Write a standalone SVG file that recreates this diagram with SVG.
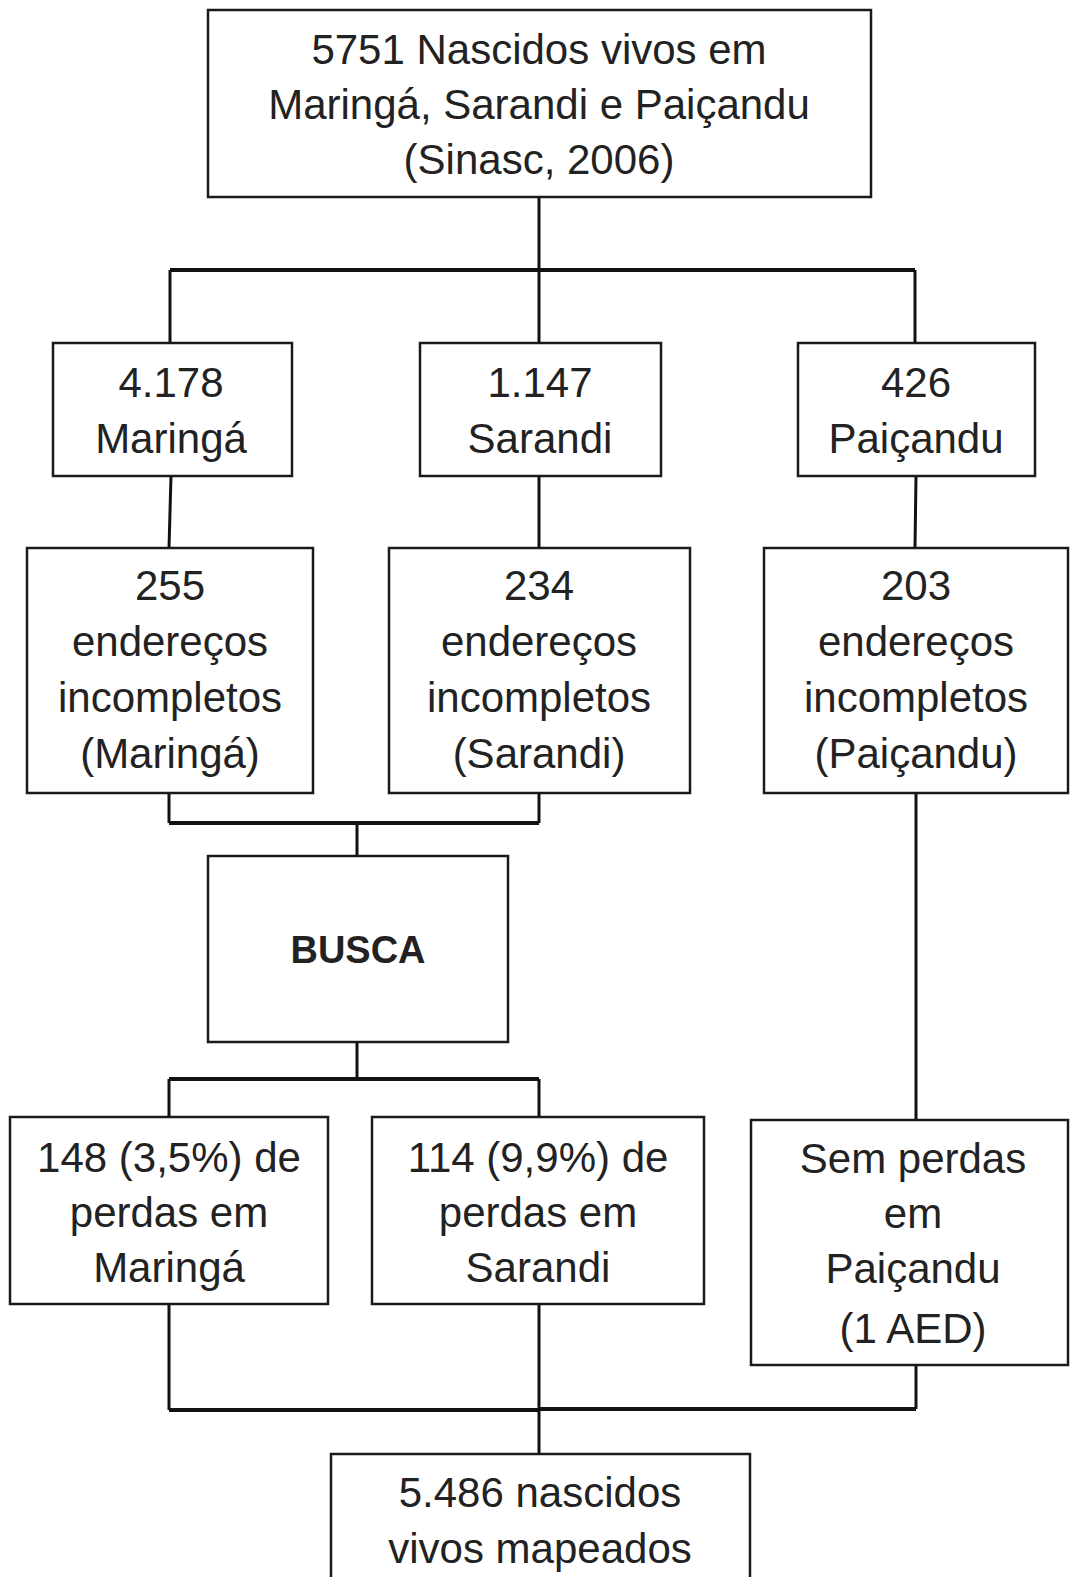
<svg xmlns="http://www.w3.org/2000/svg" width="1070" height="1577" viewBox="0 0 1070 1577">
<style>
.box{fill:#fff;stroke:#1a1a1a;stroke-width:2.5}
.t{font-family:"Liberation Sans",Arial,sans-serif;font-size:42px;fill:#222;text-anchor:middle}
.b{font-weight:bold;font-size:38px}
.c{fill:none;stroke:#111;stroke-width:3}
.h{fill:none;stroke:#111;stroke-width:4}
</style>
<rect width="1070" height="1577" fill="#fff"/>
<g id="connectors">
<path class="c" d="M539 197V270"/>
<path class="h" d="M170 270H915"/>
<path class="c" d="M170 270V343M539 270V343M915 270V343"/>
<path class="c" d="M171 476L169 548M539 476V548M916 476L915 548"/>
<path class="c" d="M169 793V823M539 793V823M357 823V856"/>
<path class="h" d="M169 823H539"/>
<path class="c" d="M357 1042V1079M169 1079V1117M539 1079V1117"/>
<path class="h" d="M169 1079H539"/>
<path class="c" d="M916 793V1120"/>
<path class="c" d="M169 1304V1410M539 1304V1454M916 1365V1409"/>
<path class="h" d="M169 1410H539M539 1409H916"/>
</g>
<g id="n-total"><rect class="box" x="208" y="10" width="663" height="187"/>
<text class="t" x="539" y="64">5751 Nascidos vivos em</text>
<text class="t" x="539" y="119">Maringá, Sarandi e Paiçandu</text>
<text class="t" x="539" y="174">(Sinasc, 2006)</text></g>
<g id="n-maringa"><rect class="box" x="53" y="343" width="239" height="133"/>
<text class="t" x="171" y="397">4.178</text><text class="t" x="171" y="453">Maringá</text></g>
<g id="n-sarandi"><rect class="box" x="420" y="343" width="241" height="133"/>
<text class="t" x="540" y="397">1.147</text><text class="t" x="540" y="453">Sarandi</text></g>
<g id="n-paicandu"><rect class="box" x="798" y="343" width="237" height="133"/>
<text class="t" x="916" y="397">426</text><text class="t" x="916" y="453">Paiçandu</text></g>
<g id="n-inc-maringa"><rect class="box" x="27" y="548" width="286" height="245"/>
<text class="t" x="170" y="600">255</text><text class="t" x="170" y="656">endereços</text><text class="t" x="170" y="712">incompletos</text><text class="t" x="170" y="768">(Maringá)</text></g>
<g id="n-inc-sarandi"><rect class="box" x="389" y="548" width="301" height="245"/>
<text class="t" x="539" y="600">234</text><text class="t" x="539" y="656">endereços</text><text class="t" x="539" y="712">incompletos</text><text class="t" x="539" y="768">(Sarandi)</text></g>
<g id="n-inc-paicandu"><rect class="box" x="764" y="548" width="304" height="245"/>
<text class="t" x="916" y="600">203</text><text class="t" x="916" y="656">endereços</text><text class="t" x="916" y="712">incompletos</text><text class="t" x="916" y="768">(Paiçandu)</text></g>
<g id="n-busca"><rect class="box" x="208" y="856" width="300" height="186"/>
<text class="t b" x="358" y="963">BUSCA</text></g>
<g id="n-perdas-maringa"><rect class="box" x="10" y="1117" width="318" height="187"/>
<text class="t" x="169" y="1172">148 (3,5%) de</text><text class="t" x="169" y="1227">perdas em</text><text class="t" x="169" y="1282">Maringá</text></g>
<g id="n-perdas-sarandi"><rect class="box" x="372" y="1117" width="332" height="187"/>
<text class="t" x="538" y="1172">114 (9,9%) de</text><text class="t" x="538" y="1227">perdas em</text><text class="t" x="538" y="1282">Sarandi</text></g>
<g id="n-sem-perdas"><rect class="box" x="751" y="1120" width="317" height="245"/>
<text class="t" x="913" y="1173">Sem perdas</text><text class="t" x="913" y="1228">em</text><text class="t" x="913" y="1283">Paiçandu</text><text class="t" x="913" y="1343">(1 AED)</text></g>
<g id="n-final"><rect class="box" x="331" y="1454" width="419" height="160"/>
<text class="t" x="540" y="1507">5.486 nascidos</text><text class="t" x="540" y="1563">vivos mapeados</text></g>
</svg>
